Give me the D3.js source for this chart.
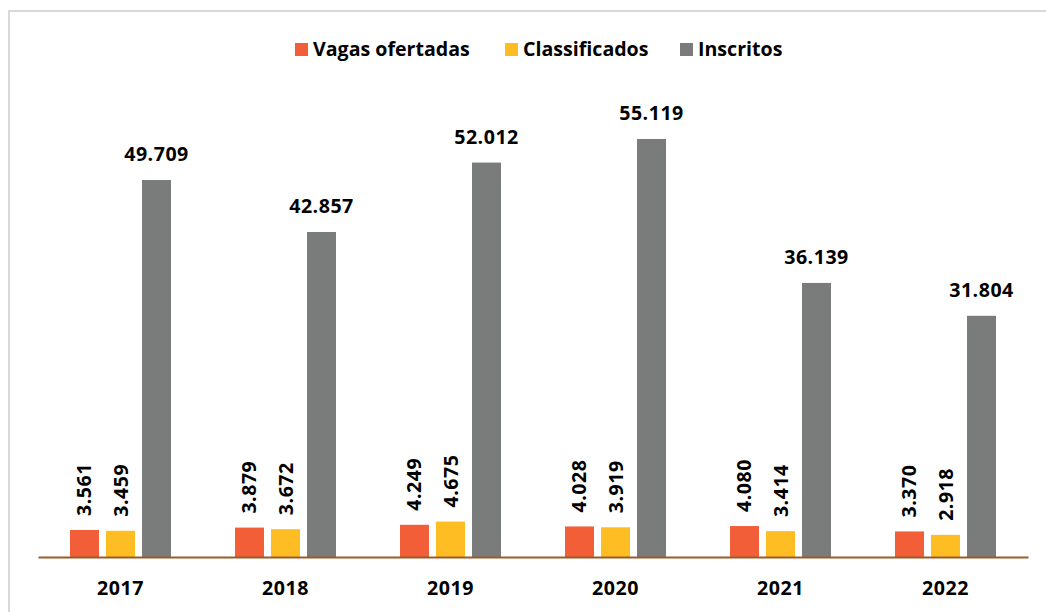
<!DOCTYPE html>
<html>
<head>
<meta charset="utf-8">
<script src="https://cdn.jsdelivr.net/npm/d3@7"></script>
<style>
  body { margin: 0; background: #fff; }
  text { font-family: "Open Sans", Lato, sans-serif; font-weight: bold; fill: #000; }
</style>
</head>
<body>
<script>
// chart data
var years = ["2017", "2018", "2019", "2020", "2021", "2022"];
var vagas = [3561, 3879, 4249, 4028, 4080, 3370];
var classificados = [3459, 3672, 4675, 3919, 3414, 2918];
var inscritos = [49709, 42857, 52012, 55119, 36139, 31804];
var seriesNames = ["Vagas ofertadas", "Classificados", "Inscritos"];
var colors = ["#f15e38", "#fdbd23", "#7a7c7c"];

var width = 1046, height = 612;
var baseY = 557;
var fontSize = 19.6;

var svg = d3.select("body").append("svg")
    .attr("width", width)
    .attr("height", height);

// outer frame (partly cut off in the picture)
svg.append("rect")
    .attr("x", 9).attr("y", 11)
    .attr("width", 1060).attr("height", 620)
    .attr("fill", "none")
    .attr("stroke", "#d9d9d9")
    .attr("stroke-width", 2);

var series = [vagas, classificados, inscritos];

var x = d3.scaleBand()
    .domain(years)
    .range([38, 1028]);

var xInner = d3.scaleBand()
    .domain(d3.range(3))
    .range([x.bandwidth() / 2 - 50.5, x.bandwidth() / 2 + 50.5])
    .paddingInner(0.195);

var y = d3.scaleLinear()
    .domain([0, 60000])
    .range([baseY, baseY - 60000 * 418 / 55119]);

var fmt = d3.formatLocale({decimal: ",", thousands: ".", grouping: [3], currency: ["R$", ""]}).format(",d");

// bars
var groups = svg.selectAll("g.year")
    .data(years)
    .enter().append("g")
    .attr("class", "year")
    .attr("transform", function(d) { return "translate(" + x(d) + ",0)"; });

groups.each(function(yr, i) {
    var g = d3.select(this);
    series.forEach(function(s, k) {
        var v = s[i];
        g.append("rect")
            .attr("x", xInner(k))
            .attr("y", y(v))
            .attr("width", xInner.bandwidth())
            .attr("height", baseY - y(v))
            .attr("fill", colors[k]);
        var cx = xInner(k) + xInner.bandwidth() / 2;
        if (k < 2) {
            // rotated labels on small bars
            g.append("text")
                .attr("transform", "translate(" + (cx + 7) + "," + (y(v) - 14) + ") rotate(-90)")
                .attr("font-size", fontSize)
                .attr("letter-spacing", 0.5)
                .text(fmt(v));
        } else {
            g.append("text")
                .attr("x", cx)
                .attr("y", y(v) - 19)
                .attr("text-anchor", "middle")
                .attr("font-size", fontSize)
                .attr("letter-spacing", 0.5)
                .text(fmt(v));
        }
    });
});

// x axis
var xAxis = svg.append("g")
    .attr("transform", "translate(0," + baseY + ")")
    .call(d3.axisBottom(x).tickSize(0).tickPadding(0));
xAxis.select(".domain")
    .attr("stroke", "#9c5a2a")
    .attr("stroke-width", 2);
xAxis.selectAll(".tick text")
    .attr("dy", 0)
    .attr("y", 38)
    .attr("font-size", fontSize)
    .attr("font-family", "'Open Sans', sans-serif")
    .attr("letter-spacing", 0.5)
    .attr("fill", "#000");

// legend
var legendX = [295, 505, 680];
var legend = svg.append("g");
seriesNames.forEach(function(name, k) {
    legend.append("rect")
        .attr("x", legendX[k]).attr("y", 43)
        .attr("width", 13).attr("height", 13)
        .attr("fill", colors[k]);
    legend.append("text")
        .attr("x", legendX[k] + 18)
        .attr("y", 56)
        .attr("font-size", fontSize)
        .text(name);
});
</script>
</body>
</html>
